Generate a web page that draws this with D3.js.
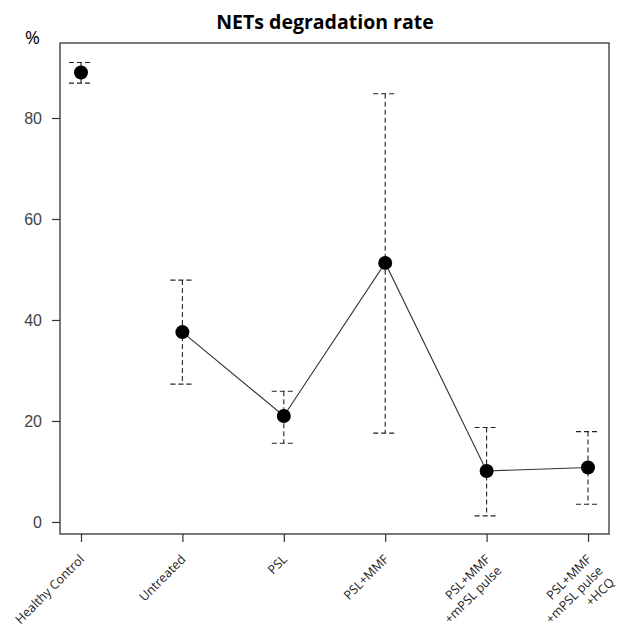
<!DOCTYPE html>
<html>
<head>
<meta charset="utf-8">
<script src="https://cdn.jsdelivr.net/npm/d3@7"></script>
<style>
  body { margin: 0; background: #fff; }
</style>
</head>
<body>
<div id="container"></div>
<script>
/* DATA */
const groups = ["Healthy Control", "Untreated", "PSL", "PSL+MMF", "PSL+MMF\n+mPSL pulse", "PSL+MMF\n+mPSL pulse\n+HCQ"];
const means = [89.0, 37.6, 21.0, 51.3, 10.1, 10.8];
const upper = [91.0, 47.9, 25.9, 84.8, 18.7, 17.9];
const lower = [86.9, 27.3, 15.6, 17.6, 1.2, 3.5];
const yTicks = [0, 20, 40, 60, 80];

/* CONSTANTS */
const width = 622, height = 628;
const box = { left: 60, right: 609, top: 43, bottom: 534 };

const svg = d3.select("#container").append("svg")
  .attr("width", width)
  .attr("height", height);

/* SCALES */
const x = d3.scalePoint()
  .domain(groups)
  .range([81, 588]);

const y = d3.scaleLinear()
  .domain([-2.38, 94.85])
  .range([box.bottom, box.top]);

// box
svg.append("rect")
  .attr("x", box.left).attr("y", box.top)
  .attr("width", box.right - box.left).attr("height", box.bottom - box.top)
  .attr("fill", "none").attr("stroke", "#333").attr("stroke-width", 1.3);

// y axis
const yAxis = svg.append("g")
  .attr("transform", `translate(${box.left},0)`)
  .call(d3.axisLeft(y).tickValues(yTicks).tickSize(8).tickPadding(10));
yAxis.select(".domain").remove();
yAxis.selectAll("line").attr("stroke", "#333").attr("stroke-width", 1.2);
yAxis.selectAll("text")
  .attr("font-family", "Liberation Sans, Arial, sans-serif")
  .attr("font-size", 16).attr("fill", "#444");

// x axis ticks
const xAxis = svg.append("g")
  .attr("transform", `translate(0,${box.bottom})`)
  .call(d3.axisBottom(x).tickSize(8).tickFormat(""));
xAxis.select(".domain").remove();
xAxis.selectAll("line").attr("stroke", "#333").attr("stroke-width", 1.2);

// x labels, rotated 45 deg, multi-line right aligned
groups.forEach(g => {
  const lines = g.split("\n");
  const t = svg.append("text")
    .attr("transform", `translate(${x(g) + 1},${box.bottom + 23}) rotate(-45)`)
    .attr("text-anchor", "end")
    .attr("font-family", "Open Sans, sans-serif")
    .attr("font-size", 12.5)
    .attr("fill", "#222");
  lines.forEach((l, i) => {
    t.append("tspan").attr("x", 0).attr("dy", i === 0 ? "0.35em" : "1.3em").text(l);
  });
});

// title
svg.append("text")
  .attr("x", 325).attr("y", 29)
  .attr("text-anchor", "middle")
  .attr("font-family", "Open Sans, sans-serif")
  .attr("font-weight", "bold").attr("font-size", 19.5)
  .text("NETs degradation rate");

svg.append("text")
  .attr("x", 25).attr("y", 44)
  .attr("font-family", "Open Sans, sans-serif")
  .attr("font-size", 18)
  .text("%");

// error bars
const idx = d3.range(groups.length);
svg.selectAll(".err").data(idx).join("line")
  .attr("class", "err")
  .attr("x1", i => x(groups[i])).attr("x2", i => x(groups[i]))
  .attr("y1", i => y(upper[i])).attr("y2", i => y(lower[i]))
  .attr("stroke", "#222").attr("stroke-width", 1.1).attr("stroke-dasharray", "5,3");
svg.selectAll(".capU").data(idx).join("line")
  .attr("class", "capU")
  .attr("x1", i => x(groups[i]) - 12).attr("x2", i => x(groups[i]) + 12)
  .attr("y1", i => y(upper[i])).attr("y2", i => y(upper[i]))
  .attr("stroke", "#222").attr("stroke-width", 1.1).attr("stroke-dasharray", "5,3");
svg.selectAll(".capL").data(idx).join("line")
  .attr("class", "capL")
  .attr("x1", i => x(groups[i]) - 12).attr("x2", i => x(groups[i]) + 12)
  .attr("y1", i => y(lower[i])).attr("y2", i => y(lower[i]))
  .attr("stroke", "#222").attr("stroke-width", 1.1).attr("stroke-dasharray", "5,3");

// connecting line (patients only)
const line = d3.line().x(i => x(groups[i])).y(i => y(means[i]));
svg.append("path")
  .datum(idx.slice(1))
  .attr("d", line)
  .attr("fill", "none").attr("stroke", "#333").attr("stroke-width", 1.1);

// points
svg.selectAll(".dot").data(idx).join("circle")
  .attr("class", "dot")
  .attr("cx", i => x(groups[i])).attr("cy", i => y(means[i]))
  .attr("r", 7).attr("fill", "#000");
</script>
</body>
</html>
